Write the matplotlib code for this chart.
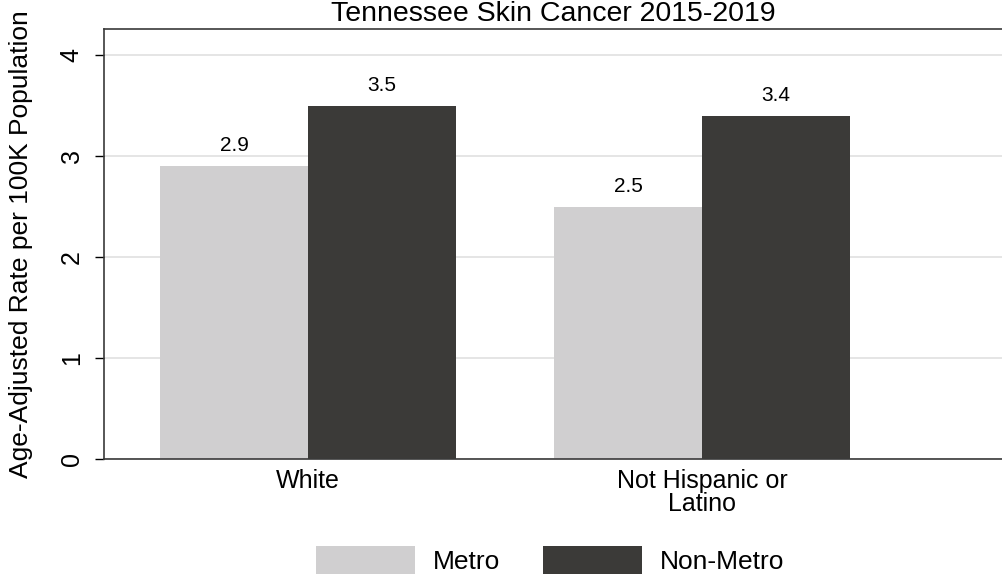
import numpy as np
import matplotlib
matplotlib.use("Agg")
import matplotlib.pyplot as plt

plt.rcParams['font.family'] = ['Liberation Sans', 'DejaVu Sans']

categories = ["White", "Not Hispanic or\nLatino"]
metro = [2.9, 2.5]
non_metro = [3.5, 3.4]
series_names = ["Metro", "Non-Metro"]
colors = ["#d0cfd0", "#3b3a38"]

fig = plt.figure(figsize=(10.02, 5.74), dpi=100)
ax = fig.add_axes([0.1038, 0.2003, 0.8962, 0.7492])

x = np.arange(len(categories))
w = 0.376
b1 = ax.bar(x - w / 2, metro, w, color=colors[0], label=series_names[0], zorder=2)
b2 = ax.bar(x + w / 2, non_metro, w, color=colors[1], label=series_names[1], zorder=2)

# value labels above each bar
for bars, vals in [(b1, metro), (b2, non_metro)]:
    for rect, v in zip(bars, vals):
        ax.annotate(f"{v:.1f}", (rect.get_x() + rect.get_width() / 2, v),
                    xytext=(0, 8), textcoords="offset points",
                    ha="center", va="bottom", fontsize=15)

ax.set_xlim(-0.518, 1.761)
ax.set_ylim(0, 4.26)
ax.set_yticks([0, 1, 2, 3, 4])
ax.set_yticklabels(["0", "1", "2", "3", "4"], rotation=90, va="center", fontsize=18)
ax.set_xticks(x)
ax.set_xticklabels(categories, fontsize=18, linespacing=0.95)
ax.tick_params(axis="x", length=0, pad=7)
ax.tick_params(axis="y", length=6.5, width=1, pad=8)

ax.grid(axis="y", color="#e0e0e0", linewidth=1.2, zorder=0)
ax.set_axisbelow(True)
for s in ["top", "left", "bottom"]:
    ax.spines[s].set_color("#3a3a3a")
    ax.spines[s].set_linewidth(1.2)
ax.spines["right"].set_visible(False)

ax.set_ylabel("Age-Adjusted Rate per 100K Population", fontsize=19, labelpad=19)
ax.set_title("Tennessee Skin Cancer 2015-2019", fontsize=20.5, pad=6)

fig.legend(handles=[b1, b2], labels=series_names, loc="center",
           bbox_to_anchor=(0.549, 0.024), ncol=2, frameon=False, fontsize=19,
           handlelength=3.75, handleheight=1.3, handletextpad=0.7,
           columnspacing=1.6)

fig.savefig("out.png", dpi=100)
